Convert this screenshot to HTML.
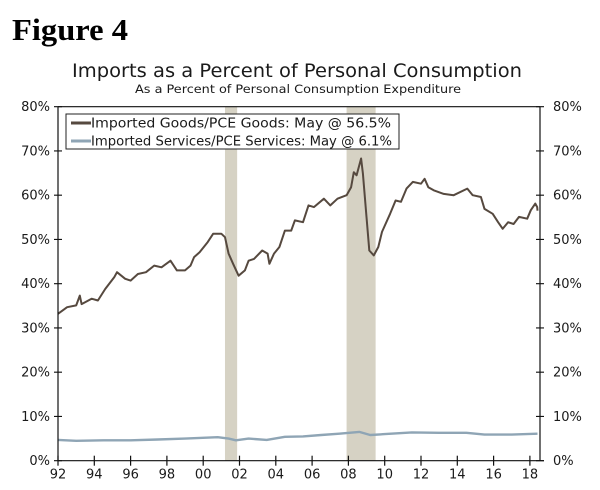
<!DOCTYPE html>
<html><head><meta charset="utf-8"><style>
body{margin:0;background:#fff;width:600px;height:490px;overflow:hidden}
svg{display:block}
text{font-family:"DejaVu Sans","Liberation Sans",sans-serif;fill:#1a1a1a}
</style></head><body>
<svg id="chart" width="600" height="490" xmlns="http://www.w3.org/2000/svg">
<text x="12" y="40" style="font-family:'Liberation Serif',serif;font-weight:bold;font-size:31px;fill:#000" textLength="116" lengthAdjust="spacingAndGlyphs">Figure 4</text>
<text x="297" y="77" text-anchor="middle" font-size="19" textLength="450" lengthAdjust="spacingAndGlyphs">Imports as a Percent of Personal Consumption</text>
<text x="298" y="93" text-anchor="middle" font-size="11.5" textLength="326" lengthAdjust="spacingAndGlyphs">As a Percent of Personal Consumption Expenditure</text>
<g id="rec"></g>
<g id="series"></g>
<g id="axes"></g>
<g>
<rect x="66" y="114" width="333" height="35" fill="#fff" stroke="#222" stroke-width="1"/>
<line x1="71" y1="123" x2="91" y2="123" stroke="#56493f" stroke-width="3"/>
<text x="91" y="127.5" font-size="13" textLength="300" lengthAdjust="spacingAndGlyphs">Imported Goods/PCE Goods: May @ 56.5%</text>
<line x1="71" y1="141" x2="91" y2="141" stroke="#8fa5b5" stroke-width="3"/>
<text x="91" y="145.5" font-size="13" textLength="301" lengthAdjust="spacingAndGlyphs">Imported Services/PCE Services: May @ 6.1%</text>
</g>
</svg>
<script>
const goodsDates=[1992.0,1992.5,1993.0,1993.2,1993.3,1993.85,1994.2,1994.6,1995.1,1995.25,1995.7,1996.0,1996.4,1996.85,1997.3,1997.7,1998.2,1998.55,1999.0,1999.3,1999.5,1999.8,2000.25,2000.55,2001.0,2001.2,2001.4,2001.65,2001.95,2002.3,2002.5,2002.8,2003.25,2003.55,2003.65,2003.9,2004.2,2004.5,2004.85,2005.05,2005.5,2005.8,2006.1,2006.65,2007.0,2007.4,2007.9,2008.15,2008.3,2008.45,2008.7,2008.8,2009.0,2009.15,2009.4,2009.65,2009.85,2010.3,2010.6,2010.9,2011.2,2011.55,2012.0,2012.2,2012.4,2012.7,2013.25,2013.8,2014.55,2014.85,2015.3,2015.5,2015.95,2016.25,2016.5,2016.8,2017.1,2017.4,2017.85,2018.05,2018.3,2018.4,2018.42];
const goodsValues=[33.2,34.7,35.1,37.3,35.4,36.6,36.2,38.8,41.5,42.6,41.1,40.7,42.2,42.6,44.1,43.7,45.2,43.0,43.0,44.1,46.0,47.1,49.4,51.3,51.3,50.5,46.8,44.5,41.8,43.0,45.2,45.6,47.5,46.8,44.5,46.8,48.3,52.0,52.0,54.3,53.9,57.7,57.3,59.2,57.7,59.2,60.0,61.8,65.2,64.5,68.3,64.9,55.1,47.5,46.4,48.3,51.7,55.8,58.8,58.5,61.5,63.0,62.6,63.7,61.8,61.1,60.3,60.0,61.5,60.0,59.6,56.9,55.8,53.9,52.4,53.9,53.5,55.1,54.7,56.6,58.1,57.3,56.5];
const servDates=[1992.0,1993.0,1994.5,1996.0,1997.5,1999.0,2000.8,2001.4,2001.8,2002.5,2003.5,2004.5,2005.5,2006.5,2007.5,2008.6,2009.2,2010.0,2011.5,2013.0,2014.5,2015.5,2017.0,2018.42];
const servValues=[4.7,4.5,4.6,4.6,4.8,5.0,5.3,5.0,4.6,5.0,4.7,5.4,5.5,5.8,6.1,6.5,5.8,6.0,6.4,6.3,6.3,5.9,5.9,6.1];
const recStarts=[2001.2,2007.9];
const recEnds=[2001.87,2009.5];
const xTicks=[1992,1994,1996,1998,2000,2002,2004,2006,2008,2010,2012,2014,2016,2018];
const xTickLabels=["92","94","96","98","00","02","04","06","08","10","12","14","16","18"];
const yTicks=[0,10,20,30,40,50,60,70,80];

const X0=58,X1=540,Y0=460.7,Y1=106.7;
const x=yr=>X0+(yr-1992)*18.15;
const y=v=>Y0+(v/80)*(Y1-Y0);
const NS="http://www.w3.org/2000/svg";
function mk(tag,parent,attrs){const e=document.createElementNS(NS,tag);for(const k in attrs)e.setAttribute(k,attrs[k]);parent.appendChild(e);return e;}
const rec=document.getElementById('rec'),ser=document.getElementById('series'),ax=document.getElementById('axes');
recStarts.forEach((s,i)=>{
 const r=mk('rect',rec,{x:x(s),y:Y1,width:x(recEnds[i])-x(s),height:Y0-Y1,fill:'#d6d2c4'});
 
 
});
function line(d,v,col,name,w){
 const p=mk('path',ser,{d:d.map((t,i)=>(i?'L':'M')+x(t).toFixed(1)+' '+y(v[i]).toFixed(1)).join(' '),fill:'none',stroke:col,'stroke-width':w,'stroke-linejoin':'round'});
 
 
}
line(servDates,servValues,'#8fa5b5','services-line',2.4);
line(goodsDates,goodsValues,'#56493f','goods-line',2);
const frame=mk('path',ax,{d:`M${X0} ${Y1}H${X1}M${X0} ${Y1}V${Y0}H${X1+4}M${X1} ${Y1}V${Y0}`,stroke:'#111',fill:'none','stroke-width':1.2});


yTicks.forEach(v=>{
 const t=mk('path',ax,{d:`M${X0-4} ${y(v)}H${X0+4}M${X1-4} ${y(v)}H${X1+4}`,stroke:'#111','stroke-width':1.2});
 
 
 const l=mk('text',ax,{x:X0-8,y:y(v)+4.5,'text-anchor':'end','font-size':13});
 l.textContent=v+'%';
 
 
 const r=mk('text',ax,{x:X1+13,y:y(v)+4.5,'font-size':13});
 r.textContent=v+'%';
 
 
});
xTicks.forEach((t,i)=>{
 const k=mk('line',ax,{x1:x(t),x2:x(t),y1:Y0-5,y2:Y0+5,stroke:'#111','stroke-width':1.2});
 
 
 const l=mk('text',ax,{x:x(t),y:Y0+18,'text-anchor':'middle','font-size':13});
 l.textContent=xTickLabels[i];
 
 
});
</script>
</body></html>
